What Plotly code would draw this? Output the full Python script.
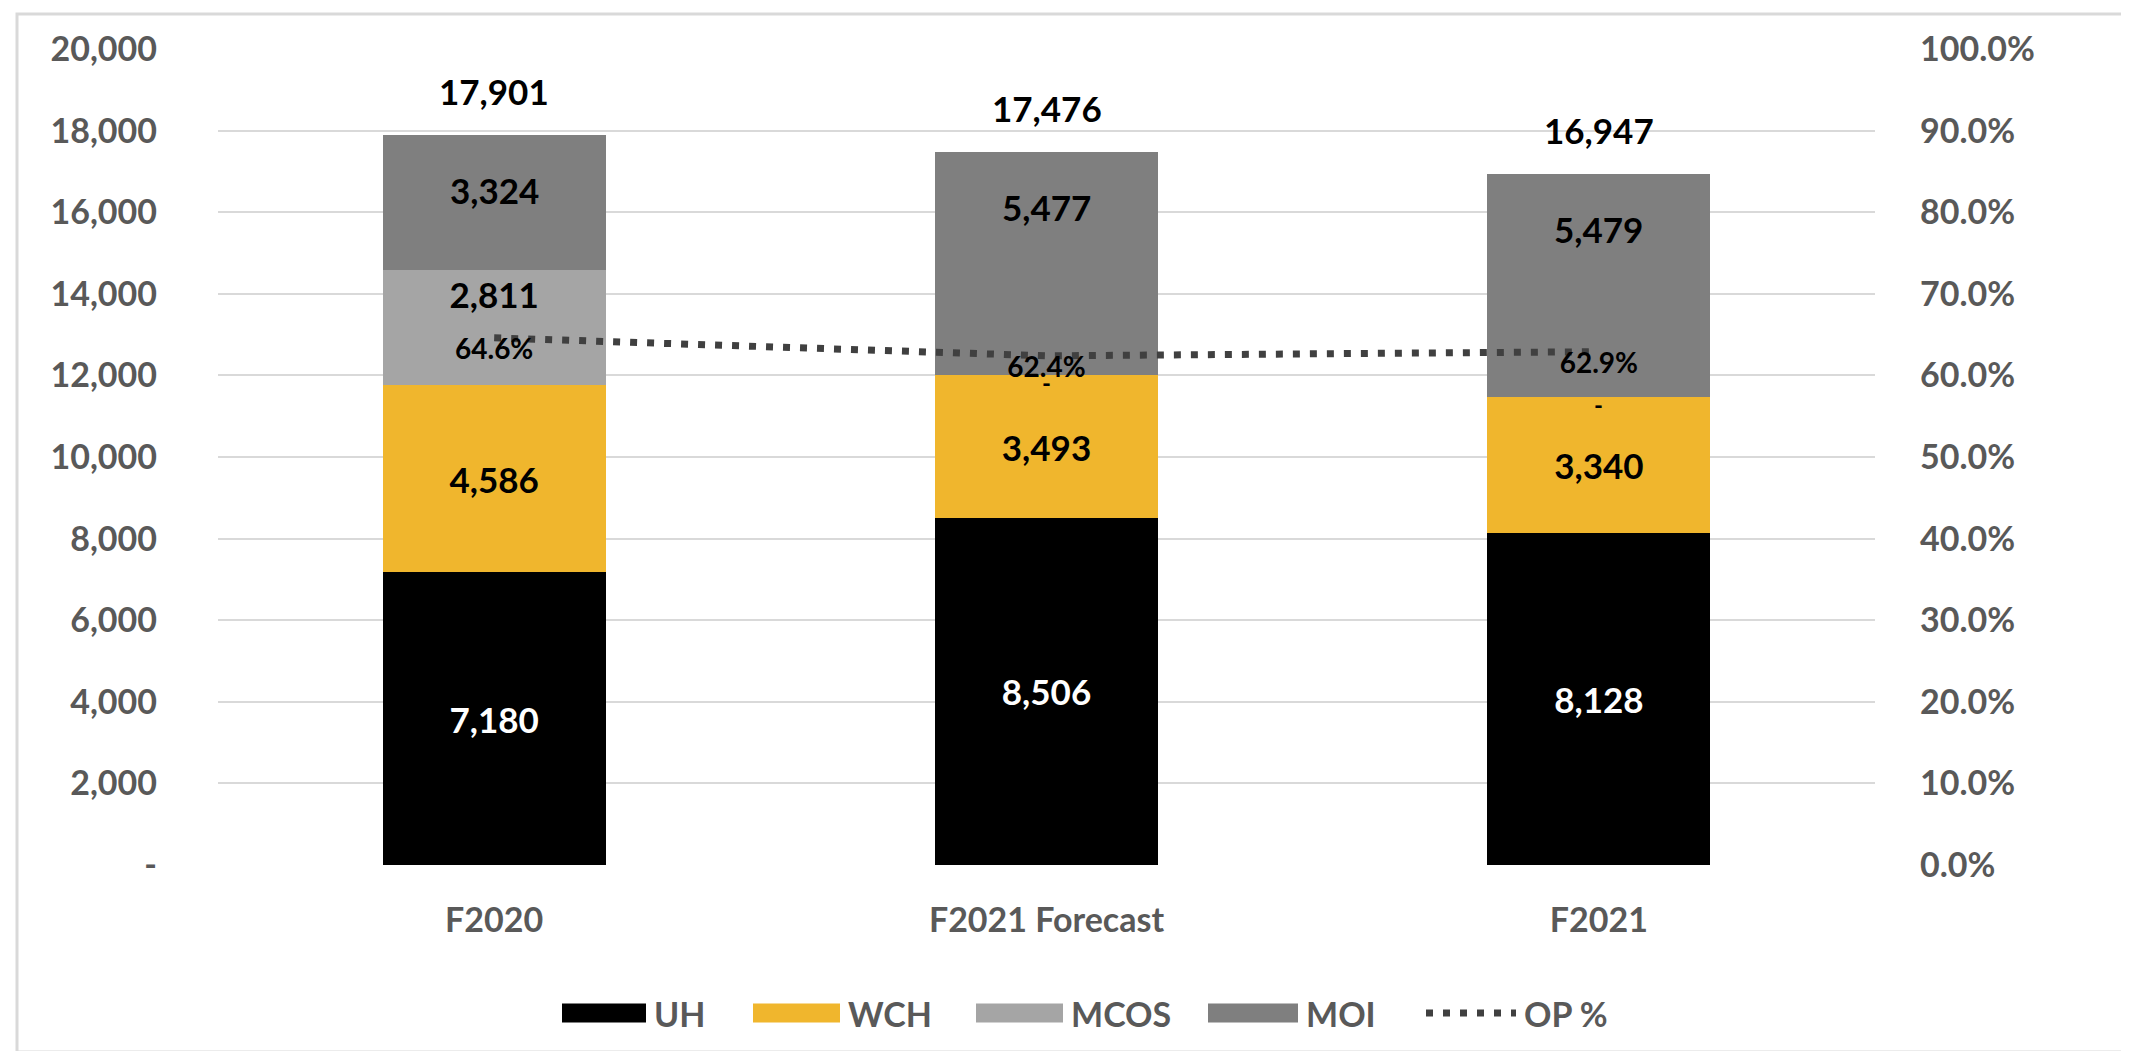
import plotly.graph_objects as go

categories = ["F2020", "F2021 Forecast", "F2021"]
uh = [7180, 8506, 8128]
wch = [4586, 3493, 3340]
mcos = [2811, 0, 0]
moi = [3324, 5477, 5479]
totals = [17901, 17476, 16947]
op_pct = [0.646, 0.624, 0.629]
series_names = ["UH", "WCH", "MCOS", "MOI", "OP %"]
left_tickvals = [0, 2000, 4000, 6000, 8000, 10000, 12000, 14000, 16000, 18000, 20000]
left_ticktext = ["-", "2,000", "4,000", "6,000", "8,000", "10,000", "12,000", "14,000", "16,000", "18,000", "20,000"]

W, H = 2129, 1051
L, R, T, B = 210, 262, 41, 194
PW, PH = W - L - R, H - T - B

def px(x):
    return (x - L) / PW

def py(y):
    return (H - B - y) / PH

FONT = "Lato"
AXIS_GRAY = "#595959"
colors = {"UH": "#000000", "WCH": "#F0B62D", "MCOS": "#A5A5A5", "MOI": "#7F7F7F", "OP %": "#404040"}
DOT = dict(width=7, dash="7px,10px")

def fmt(v):
    return "-" if v == 0 else f"{v:,}"

fig = go.Figure()

fig.add_trace(go.Bar(
    x=categories, y=uh, name="UH", marker=dict(color=colors["UH"], line=dict(width=0)),
    text=[fmt(v) for v in uh], textposition="inside", insidetextanchor="middle",
    textfont=dict(family=FONT, size=35, color="white", weight="bold"), showlegend=False,
))
fig.add_trace(go.Bar(
    x=categories, y=wch, name="WCH", marker=dict(color=colors["WCH"], line=dict(width=0)),
    text=[fmt(v) for v in wch], textposition="inside", insidetextanchor="middle",
    textfont=dict(family=FONT, size=35, color="black", weight="bold"), showlegend=False,
))
fig.add_trace(go.Bar(
    x=categories, y=mcos, name="MCOS", marker=dict(color=colors["MCOS"], line=dict(width=0)),
    text=[fmt(v) if v else "" for v in mcos], textposition="inside", insidetextanchor="end",
    textfont=dict(family=FONT, size=35, color="black", weight="bold"), showlegend=False,
))
fig.add_trace(go.Bar(
    x=categories, y=moi, name="MOI", marker=dict(color=colors["MOI"], line=dict(width=0)),
    textposition="none", showlegend=False,
))

fig.add_trace(go.Scatter(
    x=categories, y=op_pct, name="OP %", yaxis="y2", mode="lines+text",
    line=dict(color=colors["OP %"], **DOT),
    text=[f"{v:.1%}" for v in op_pct], textposition="bottom center",
    textfont=dict(family=FONT, size=28, color="black", weight="bold"), showlegend=False,
))

annotations = []
for c, t, m in zip(categories, totals, moi):
    annotations.append(dict(x=c, y=t, xref="x", yref="y", text=f"{t:,}", showarrow=False,
                            yanchor="middle", yshift=44,
                            font=dict(family=FONT, size=35, color="black", weight="bold")))
    annotations.append(dict(x=c, y=t, xref="x", yref="y", text=fmt(m), showarrow=False,
                            yanchor="middle", yshift=-55,
                            font=dict(family=FONT, size=35, color="black", weight="bold")))

# zero-value MCOS labels ("-") just below the base of the (empty) MCOS segment
for c, u, w, v in zip(categories, uh, wch, mcos):
    if v == 0:
        annotations.append(dict(x=c, y=u + w, xref="x", yref="y", text=fmt(v), showarrow=False,
                                yanchor="middle", yshift=-7,
                                font=dict(family=FONT, size=24, color="black", weight="bold")))

# custom legend (wide swatches like the original)
shapes = []
legend_y = 1005
legend_items = [
    ("UH", 554, 638, 644),
    ("WCH", 745, 832, 838),
    ("MCOS", 968, 1055, 1061),
    ("MOI", 1200, 1290, 1296),
    ("OP %", 1418, 1508, 1514),
]
for name, x0, x1, xt in legend_items:
    if name == "OP %":
        shapes.append(dict(type="line", xref="paper", yref="paper", x0=px(x0), x1=px(x1),
                           y0=py(legend_y), y1=py(legend_y),
                           line=dict(color=colors[name], **DOT)))
    else:
        shapes.append(dict(type="rect", xref="paper", yref="paper", x0=px(x0), x1=px(x1),
                           y0=py(legend_y - 9.5), y1=py(legend_y + 9.5),
                           fillcolor=colors[name], line=dict(width=0)))
    annotations.append(dict(x=px(xt), y=py(legend_y), xref="paper", yref="paper", text=name,
                            showarrow=False, xanchor="left", yanchor="middle",
                            font=dict(family=FONT, size=34, color=AXIS_GRAY, weight="bold")))

# outer chart border
shapes.append(dict(type="rect", xref="paper", yref="paper", x0=px(9), x1=px(2120), y0=py(1044), y1=py(6),
                   line=dict(color="#D9D9D9", width=3), fillcolor="rgba(0,0,0,0)", layer="below"))

fig.update_layout(
    width=W, height=H,
    margin=dict(l=L, r=R, t=T, b=B),
    paper_bgcolor="white", plot_bgcolor="white",
    barmode="stack", bargap=0.596,
    showlegend=False,
    font=dict(family=FONT, size=34, color=AXIS_GRAY),
    xaxis=dict(showgrid=False, showline=False, zeroline=False, ticks="",
               tickfont=dict(family=FONT, size=34, color=AXIS_GRAY, weight="bold"),
               ticklabelstandoff=32),
    yaxis=dict(range=[0, 20000], tickvals=left_tickvals, ticktext=left_ticktext,
               showgrid=True, gridcolor="#D9D9D9", gridwidth=2, zeroline=False, showline=False,
               tickfont=dict(family=FONT, size=34, color=AXIS_GRAY, weight="bold"),
               ticklabelstandoff=60),
    yaxis2=dict(range=[0, 1], overlaying="y", side="right", tickformat=".1%", dtick=0.1,
                showgrid=False, zeroline=False, showline=False,
                tickfont=dict(family=FONT, size=34, color=AXIS_GRAY, weight="bold"),
                ticklabelstandoff=44),
    annotations=annotations,
    shapes=shapes,
)

fig.write_html("out.html")
